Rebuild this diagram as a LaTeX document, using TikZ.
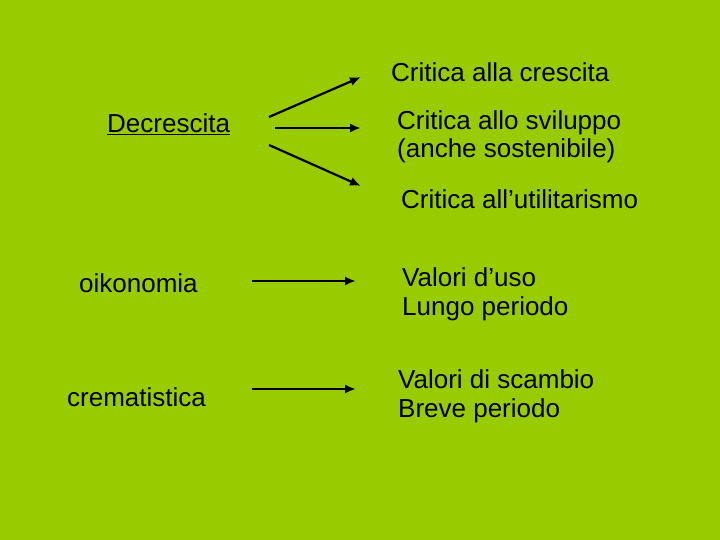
\documentclass[tikz,border=0pt]{standalone}
\usepackage{fontspec}
\setmainfont{Liberation Sans}
\usepackage{tikz}
\usetikzlibrary{arrows.meta}

\definecolor{slidegreen}{RGB}{153,204,0}

\begin{document}
\begin{tikzpicture}[x=1pt,y=-1pt,
    label/.style={anchor=base west,inner sep=0pt,align=left,
      font=\fontsize{26}{28.5}\selectfont},
    arr/.style={line width=2.2pt,-{Latex[length=11pt,width=9pt]}}]
  \fill[slidegreen]
    (0,0)
    rectangle
    (720,540);
  \useasboundingbox (0,0) rectangle (720,540);
  % upper block (base anchor sits on the last line)
  \node[label] (dec) at (107,133) {\underline{Decrescita}};
  \node[label] (crescita) at (391,82) {Critica alla crescita};
  \node[label] (sviluppo) at (397,158) {Critica allo sviluppo\\(anche sostenibile)};
  \node[label] (utile) at (401,209) {Critica all’utilitarismo};
  \coordinate (dup) at (269,117);
  \coordinate (dmid) at (275,128);
  \coordinate (dlow) at (269,145);
  \coordinate (cup) at (361,77);
  \coordinate (cmid) at (361,128);
  \coordinate (clow) at (361,186);
  \draw[arr]
    (dup)
    --
    (cup);
  \draw[arr]
    (dmid)
    --
    (cmid);
  \draw[arr]
    (dlow)
    --
    (clow);
  % lower block
  \node[label] (oiko) at (79,292) {oikonomia};
  \node[label] (uso) at (402,315) {Valori d’uso\\Lungo periodo};
  \node[label] (crem) at (67,406) {crematistica};
  \node[label] (scambio) at (398,417) {Valori di scambio\\Breve periodo};
  \coordinate (oout) at (252,281);
  \coordinate (oin) at (356,281);
  \coordinate (cout) at (252,389);
  \coordinate (cin) at (356,389);
  \draw[arr]
    (oout)
    --
    (oin);
  \draw[arr]
    (cout)
    --
    (cin);
\end{tikzpicture}
\end{document}
